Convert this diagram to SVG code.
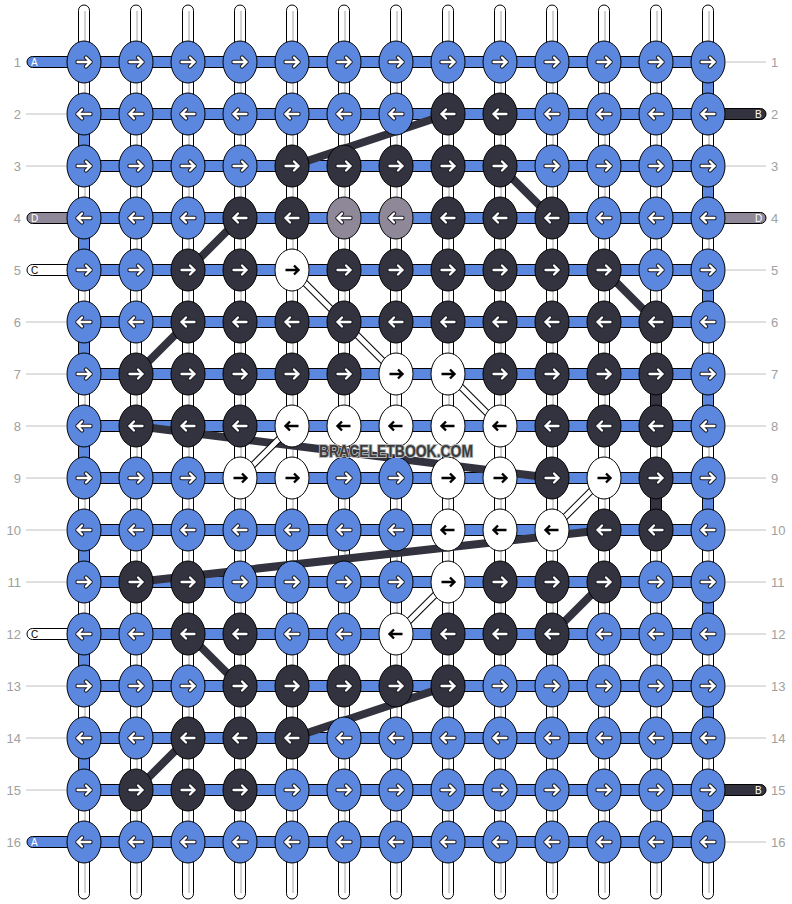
<svg xmlns="http://www.w3.org/2000/svg" xmlns:xlink="http://www.w3.org/1999/xlink" width="792" height="904" viewBox="0 0 792 904">
<style>
.st{fill:#fff;stroke:#000;stroke-width:1}
.sc{stroke:#c4c4c4;stroke-width:1.5}
.hb{fill:#5b87de;stroke:#000;stroke-width:1}
.eb{fill:#5b87de;stroke:#000;stroke-width:1}
.ek{fill:#33333f;stroke:#000;stroke-width:1}
.ew{fill:#fff;stroke:#000;stroke-width:1}
.eg{fill:#8f8898;stroke:#000;stroke-width:1}
.tk{fill:#33333f;stroke:#000;stroke-width:1}
.tg{fill:#8f8898;stroke:#000;stroke-width:1}
.tw{fill:#fff;stroke:#000;stroke-width:1}
.ao{stroke:#1e1e28;stroke-width:4.4;stroke-linejoin:round;stroke-linecap:round}
.aw{stroke:#fff;stroke-width:2.3;stroke-linecap:round}
.ab{stroke:#000;stroke-width:2.4}
.gl{stroke:#c0c0c0;stroke-width:1}
.lb{fill:#a0a0a0;font-family:"Liberation Sans",Arial,sans-serif;font-size:13px}
.tl{font-family:"Liberation Sans",Arial,sans-serif;font-size:10px}
.dl{stroke:#33333f;stroke-width:8;fill:none}
.ho{stroke:#000;stroke-width:7;fill:none}
.hi{stroke:#fff;stroke-width:5;fill:none}
.wm{font-family:"Liberation Sans",Arial,sans-serif;font-weight:bold;font-size:16px;fill:#3c3c3c;stroke:#b8b8b8;stroke-width:2;paint-order:stroke}
</style>
<defs>
<path id="ar" d="M-6.5 0H6.5M2-4.5L6.5 0L2 4.5" fill="none"/>
<path id="al" d="M6.5 0H-6.5M-2-4.5L-6.5 0L-2 4.5" fill="none"/>
<g id="BR"><ellipse rx="17" ry="21" class="eb"/><use href="#ar" class="ao"/><use href="#ar" class="aw"/></g>
<g id="BL"><ellipse rx="17" ry="21" class="eb"/><use href="#al" class="ao"/><use href="#al" class="aw"/></g>
<g id="KR"><ellipse rx="17" ry="21" class="ek"/><use href="#ar" class="ao"/><use href="#ar" class="aw"/></g>
<g id="KL"><ellipse rx="17" ry="21" class="ek"/><use href="#al" class="ao"/><use href="#al" class="aw"/></g>
<g id="GL"><ellipse rx="17" ry="21" class="eg"/><use href="#al" class="ao"/><use href="#al" class="aw"/></g>
<g id="WR"><ellipse rx="17" ry="21" class="ew"/><use href="#ar" class="ab"/></g>
<g id="WL"><ellipse rx="17" ry="21" class="ew"/><use href="#al" class="ab"/></g>
</defs>
<rect width="792" height="904" fill="#fff"/>
<g id="guides">
<line class="gl" x1="26" y1="114" x2="66" y2="114"/><line class="gl" x1="26" y1="166" x2="66" y2="166"/><line class="gl" x1="26" y1="322" x2="66" y2="322"/><line class="gl" x1="26" y1="374" x2="66" y2="374"/><line class="gl" x1="26" y1="426" x2="66" y2="426"/><line class="gl" x1="26" y1="478" x2="66" y2="478"/><line class="gl" x1="26" y1="530" x2="66" y2="530"/><line class="gl" x1="26" y1="582" x2="66" y2="582"/><line class="gl" x1="26" y1="686" x2="66" y2="686"/><line class="gl" x1="26" y1="738" x2="66" y2="738"/><line class="gl" x1="26" y1="790" x2="66" y2="790"/>
<line class="gl" x1="726" y1="62" x2="766" y2="62"/><line class="gl" x1="726" y1="166" x2="766" y2="166"/><line class="gl" x1="726" y1="270" x2="766" y2="270"/><line class="gl" x1="726" y1="322" x2="766" y2="322"/><line class="gl" x1="726" y1="374" x2="766" y2="374"/><line class="gl" x1="726" y1="426" x2="766" y2="426"/><line class="gl" x1="726" y1="478" x2="766" y2="478"/><line class="gl" x1="726" y1="530" x2="766" y2="530"/><line class="gl" x1="726" y1="582" x2="766" y2="582"/><line class="gl" x1="726" y1="634" x2="766" y2="634"/><line class="gl" x1="726" y1="686" x2="766" y2="686"/><line class="gl" x1="726" y1="738" x2="766" y2="738"/><line class="gl" x1="726" y1="842" x2="766" y2="842"/>
</g>
<g id="row-labels" class="lb">
<text x="21" y="66.7" text-anchor="end">1</text><text x="21" y="118.7" text-anchor="end">2</text><text x="21" y="170.7" text-anchor="end">3</text><text x="21" y="222.7" text-anchor="end">4</text><text x="21" y="274.7" text-anchor="end">5</text><text x="21" y="326.7" text-anchor="end">6</text><text x="21" y="378.7" text-anchor="end">7</text><text x="21" y="430.7" text-anchor="end">8</text><text x="21" y="482.7" text-anchor="end">9</text><text x="21" y="534.7" text-anchor="end">10</text><text x="21" y="586.7" text-anchor="end">11</text><text x="21" y="638.7" text-anchor="end">12</text><text x="21" y="690.7" text-anchor="end">13</text><text x="21" y="742.7" text-anchor="end">14</text><text x="21" y="794.7" text-anchor="end">15</text><text x="21" y="846.7" text-anchor="end">16</text>
<text x="771" y="66.7">1</text><text x="771" y="118.7">2</text><text x="771" y="170.7">3</text><text x="771" y="222.7">4</text><text x="771" y="274.7">5</text><text x="771" y="326.7">6</text><text x="771" y="378.7">7</text><text x="771" y="430.7">8</text><text x="771" y="482.7">9</text><text x="771" y="534.7">10</text><text x="771" y="586.7">11</text><text x="771" y="638.7">12</text><text x="771" y="690.7">13</text><text x="771" y="742.7">14</text><text x="771" y="794.7">15</text><text x="771" y="846.7">16</text>
</g>
<g id="strands">
<rect class="st" x="78.5" y="5" width="11" height="894" rx="5.5"/><rect class="st" x="130.5" y="5" width="11" height="894" rx="5.5"/><rect class="st" x="182.5" y="5" width="11" height="894" rx="5.5"/><rect class="st" x="234.5" y="5" width="11" height="894" rx="5.5"/><rect class="st" x="286.5" y="5" width="11" height="894" rx="5.5"/><rect class="st" x="338.5" y="5" width="11" height="894" rx="5.5"/><rect class="st" x="390.5" y="5" width="11" height="894" rx="5.5"/><rect class="st" x="442.5" y="5" width="11" height="894" rx="5.5"/><rect class="st" x="494.5" y="5" width="11" height="894" rx="5.5"/><rect class="st" x="546.5" y="5" width="11" height="894" rx="5.5"/><rect class="st" x="598.5" y="5" width="11" height="894" rx="5.5"/><rect class="st" x="650.5" y="5" width="11" height="894" rx="5.5"/><rect class="st" x="702.5" y="5" width="11" height="894" rx="5.5"/>
<path class="sc" d="M85 11V893M137 11V893M189 11V893M241 11V893M293 11V893M345 11V893M397 11V893M449 11V893M501 11V893M553 11V893M605 11V893M657 11V893M709 11V893"/>
</g>
<g id="row-strings">
<rect class="hb" x="84" y="56.5" width="624" height="11"/><rect class="hb" x="84" y="108.5" width="624" height="11"/><rect class="hb" x="84" y="160.5" width="624" height="11"/><rect class="hb" x="84" y="212.5" width="624" height="11"/><rect class="hb" x="84" y="264.5" width="624" height="11"/><rect class="hb" x="84" y="316.5" width="624" height="11"/><rect class="hb" x="84" y="368.5" width="624" height="11"/><rect class="hb" x="84" y="420.5" width="624" height="11"/><rect class="hb" x="84" y="472.5" width="624" height="11"/><rect class="hb" x="84" y="524.5" width="624" height="11"/><rect class="hb" x="84" y="576.5" width="624" height="11"/><rect class="hb" x="84" y="628.5" width="624" height="11"/><rect class="hb" x="84" y="680.5" width="624" height="11"/><rect class="hb" x="84" y="732.5" width="624" height="11"/><rect class="hb" x="84" y="784.5" width="624" height="11"/><rect class="hb" x="84" y="836.5" width="624" height="11"/>
</g>
<g id="tabs">
<rect class="hb" x="27" y="56.5" width="62" height="11" rx="5.5"/><text class="tl" x="31" y="66" fill="#fff">A</text>
<rect class="tg" x="27" y="212.5" width="62" height="11" rx="5.5"/><text class="tl" x="31" y="222" fill="#fff">D</text>
<rect class="tw" x="27" y="264.5" width="62" height="11" rx="5.5"/><text class="tl" x="31" y="274" fill="#000">C</text>
<rect class="tw" x="27" y="628.5" width="62" height="11" rx="5.5"/><text class="tl" x="31" y="638" fill="#000">C</text>
<rect class="hb" x="27" y="836.5" width="62" height="11" rx="5.5"/><text class="tl" x="31" y="846" fill="#fff">A</text>
<rect class="tk" x="700" y="108.5" width="66" height="11" rx="5.5"/><text class="tl" x="755" y="118" fill="#fff">B</text>
<rect class="tg" x="700" y="212.5" width="66" height="11" rx="5.5"/><text class="tl" x="755" y="222" fill="#fff">D</text>
<rect class="tk" x="700" y="784.5" width="66" height="11" rx="5.5"/><text class="tl" x="755" y="794" fill="#fff">B</text>
</g>
<g id="connectors">
<rect class="hb" x="78.5" y="114" width="11" height="52"/><rect class="hb" x="78.5" y="218" width="11" height="52"/><rect class="hb" x="78.5" y="322" width="11" height="52"/><rect class="hb" x="78.5" y="426" width="11" height="52"/><rect class="hb" x="78.5" y="530" width="11" height="52"/><rect class="hb" x="78.5" y="634" width="11" height="52"/><rect class="hb" x="78.5" y="738" width="11" height="52"/>
<rect class="hb" x="702.5" y="62" width="11" height="52"/><rect class="hb" x="702.5" y="166" width="11" height="52"/><rect class="hb" x="702.5" y="270" width="11" height="52"/><rect class="hb" x="702.5" y="374" width="11" height="52"/><rect class="hb" x="702.5" y="478" width="11" height="52"/><rect class="hb" x="702.5" y="582" width="11" height="52"/><rect class="hb" x="702.5" y="686" width="11" height="52"/><rect class="hb" x="702.5" y="790" width="11" height="52"/>
<rect class="tk" x="650.5" y="374" width="11" height="52"/><rect class="tk" x="650.5" y="478" width="11" height="52"/>
<path class="dl" d="M448 114L292 166M500 166L552 218M240 218L188 270M604 270L656 322M188 322L136 374M136 426L552 478M604 530L136 582M604 582L552 634M188 634L240 686M448 686L292 738M188 738L136 790"/>
<path class="ho" d="M292 270L396 374M448 374L500 426M292 426L240 478M604 478L552 530M448 582L396 634"/>
<path class="hi" d="M292 270L396 374M448 374L500 426M292 426L240 478M604 478L552 530M448 582L396 634"/>
</g>
<g id="knots">
<g id="k1-1"><use href="#BR" x="84" y="62"/></g><g id="k1-2"><use href="#BR" x="136" y="62"/></g><g id="k1-3"><use href="#BR" x="188" y="62"/></g><g id="k1-4"><use href="#BR" x="240" y="62"/></g><g id="k1-5"><use href="#BR" x="292" y="62"/></g><g id="k1-6"><use href="#BR" x="344" y="62"/></g><g id="k1-7"><use href="#BR" x="396" y="62"/></g><g id="k1-8"><use href="#BR" x="448" y="62"/></g><g id="k1-9"><use href="#BR" x="500" y="62"/></g><g id="k1-10"><use href="#BR" x="552" y="62"/></g><g id="k1-11"><use href="#BR" x="604" y="62"/></g><g id="k1-12"><use href="#BR" x="656" y="62"/></g><g id="k1-13"><use href="#BR" x="708" y="62"/></g>
<g id="k2-1"><use href="#BL" x="84" y="114"/></g><g id="k2-2"><use href="#BL" x="136" y="114"/></g><g id="k2-3"><use href="#BL" x="188" y="114"/></g><g id="k2-4"><use href="#BL" x="240" y="114"/></g><g id="k2-5"><use href="#BL" x="292" y="114"/></g><g id="k2-6"><use href="#BL" x="344" y="114"/></g><g id="k2-7"><use href="#BL" x="396" y="114"/></g><g id="k2-8"><use href="#KL" x="448" y="114"/></g><g id="k2-9"><use href="#KL" x="500" y="114"/></g><g id="k2-10"><use href="#BL" x="552" y="114"/></g><g id="k2-11"><use href="#BL" x="604" y="114"/></g><g id="k2-12"><use href="#BL" x="656" y="114"/></g><g id="k2-13"><use href="#BL" x="708" y="114"/></g>
<g id="k3-1"><use href="#BR" x="84" y="166"/></g><g id="k3-2"><use href="#BR" x="136" y="166"/></g><g id="k3-3"><use href="#BR" x="188" y="166"/></g><g id="k3-4"><use href="#BR" x="240" y="166"/></g><g id="k3-5"><use href="#KR" x="292" y="166"/></g><g id="k3-6"><use href="#KR" x="344" y="166"/></g><g id="k3-7"><use href="#KR" x="396" y="166"/></g><g id="k3-8"><use href="#KR" x="448" y="166"/></g><g id="k3-9"><use href="#KR" x="500" y="166"/></g><g id="k3-10"><use href="#BR" x="552" y="166"/></g><g id="k3-11"><use href="#BR" x="604" y="166"/></g><g id="k3-12"><use href="#BR" x="656" y="166"/></g><g id="k3-13"><use href="#BR" x="708" y="166"/></g>
<g id="k4-1"><use href="#BL" x="84" y="218"/></g><g id="k4-2"><use href="#BL" x="136" y="218"/></g><g id="k4-3"><use href="#BL" x="188" y="218"/></g><g id="k4-4"><use href="#KL" x="240" y="218"/></g><g id="k4-5"><use href="#KL" x="292" y="218"/></g><g id="k4-6"><use href="#GL" x="344" y="218"/></g><g id="k4-7"><use href="#GL" x="396" y="218"/></g><g id="k4-8"><use href="#KL" x="448" y="218"/></g><g id="k4-9"><use href="#KL" x="500" y="218"/></g><g id="k4-10"><use href="#KL" x="552" y="218"/></g><g id="k4-11"><use href="#BL" x="604" y="218"/></g><g id="k4-12"><use href="#BL" x="656" y="218"/></g><g id="k4-13"><use href="#BL" x="708" y="218"/></g>
<g id="k5-1"><use href="#BR" x="84" y="270"/></g><g id="k5-2"><use href="#BR" x="136" y="270"/></g><g id="k5-3"><use href="#KR" x="188" y="270"/></g><g id="k5-4"><use href="#KR" x="240" y="270"/></g><g id="k5-5"><use href="#WR" x="292" y="270"/></g><g id="k5-6"><use href="#KR" x="344" y="270"/></g><g id="k5-7"><use href="#KR" x="396" y="270"/></g><g id="k5-8"><use href="#KR" x="448" y="270"/></g><g id="k5-9"><use href="#KR" x="500" y="270"/></g><g id="k5-10"><use href="#KR" x="552" y="270"/></g><g id="k5-11"><use href="#KR" x="604" y="270"/></g><g id="k5-12"><use href="#BR" x="656" y="270"/></g><g id="k5-13"><use href="#BR" x="708" y="270"/></g>
<g id="k6-1"><use href="#BL" x="84" y="322"/></g><g id="k6-2"><use href="#BL" x="136" y="322"/></g><g id="k6-3"><use href="#KL" x="188" y="322"/></g><g id="k6-4"><use href="#KL" x="240" y="322"/></g><g id="k6-5"><use href="#KL" x="292" y="322"/></g><g id="k6-6"><use href="#KL" x="344" y="322"/></g><g id="k6-7"><use href="#KL" x="396" y="322"/></g><g id="k6-8"><use href="#KL" x="448" y="322"/></g><g id="k6-9"><use href="#KL" x="500" y="322"/></g><g id="k6-10"><use href="#KL" x="552" y="322"/></g><g id="k6-11"><use href="#KL" x="604" y="322"/></g><g id="k6-12"><use href="#KL" x="656" y="322"/></g><g id="k6-13"><use href="#BL" x="708" y="322"/></g>
<g id="k7-1"><use href="#BR" x="84" y="374"/></g><g id="k7-2"><use href="#KR" x="136" y="374"/></g><g id="k7-3"><use href="#KR" x="188" y="374"/></g><g id="k7-4"><use href="#KR" x="240" y="374"/></g><g id="k7-5"><use href="#KR" x="292" y="374"/></g><g id="k7-6"><use href="#KR" x="344" y="374"/></g><g id="k7-7"><use href="#WR" x="396" y="374"/></g><g id="k7-8"><use href="#WR" x="448" y="374"/></g><g id="k7-9"><use href="#KR" x="500" y="374"/></g><g id="k7-10"><use href="#KR" x="552" y="374"/></g><g id="k7-11"><use href="#KR" x="604" y="374"/></g><g id="k7-12"><use href="#KR" x="656" y="374"/></g><g id="k7-13"><use href="#BR" x="708" y="374"/></g>
<g id="k8-1"><use href="#BL" x="84" y="426"/></g><g id="k8-2"><use href="#KL" x="136" y="426"/></g><g id="k8-3"><use href="#KL" x="188" y="426"/></g><g id="k8-4"><use href="#KL" x="240" y="426"/></g><g id="k8-5"><use href="#WL" x="292" y="426"/></g><g id="k8-6"><use href="#WL" x="344" y="426"/></g><g id="k8-7"><use href="#WL" x="396" y="426"/></g><g id="k8-8"><use href="#WL" x="448" y="426"/></g><g id="k8-9"><use href="#WL" x="500" y="426"/></g><g id="k8-10"><use href="#KL" x="552" y="426"/></g><g id="k8-11"><use href="#KL" x="604" y="426"/></g><g id="k8-12"><use href="#KL" x="656" y="426"/></g><g id="k8-13"><use href="#BL" x="708" y="426"/></g>
<g id="k9-1"><use href="#BR" x="84" y="478"/></g><g id="k9-2"><use href="#BR" x="136" y="478"/></g><g id="k9-3"><use href="#BR" x="188" y="478"/></g><g id="k9-4"><use href="#WR" x="240" y="478"/></g><g id="k9-5"><use href="#WR" x="292" y="478"/></g><g id="k9-6"><use href="#BR" x="344" y="478"/></g><g id="k9-7"><use href="#BR" x="396" y="478"/></g><g id="k9-8"><use href="#WR" x="448" y="478"/></g><g id="k9-9"><use href="#WR" x="500" y="478"/></g><g id="k9-10"><use href="#KR" x="552" y="478"/></g><g id="k9-11"><use href="#WR" x="604" y="478"/></g><g id="k9-12"><use href="#KR" x="656" y="478"/></g><g id="k9-13"><use href="#BR" x="708" y="478"/></g>
<g id="k10-1"><use href="#BL" x="84" y="530"/></g><g id="k10-2"><use href="#BL" x="136" y="530"/></g><g id="k10-3"><use href="#BL" x="188" y="530"/></g><g id="k10-4"><use href="#BL" x="240" y="530"/></g><g id="k10-5"><use href="#BL" x="292" y="530"/></g><g id="k10-6"><use href="#BL" x="344" y="530"/></g><g id="k10-7"><use href="#BL" x="396" y="530"/></g><g id="k10-8"><use href="#WL" x="448" y="530"/></g><g id="k10-9"><use href="#WL" x="500" y="530"/></g><g id="k10-10"><use href="#WL" x="552" y="530"/></g><g id="k10-11"><use href="#KL" x="604" y="530"/></g><g id="k10-12"><use href="#KL" x="656" y="530"/></g><g id="k10-13"><use href="#BL" x="708" y="530"/></g>
<g id="k11-1"><use href="#BR" x="84" y="582"/></g><g id="k11-2"><use href="#KR" x="136" y="582"/></g><g id="k11-3"><use href="#KR" x="188" y="582"/></g><g id="k11-4"><use href="#BR" x="240" y="582"/></g><g id="k11-5"><use href="#BR" x="292" y="582"/></g><g id="k11-6"><use href="#BR" x="344" y="582"/></g><g id="k11-7"><use href="#BR" x="396" y="582"/></g><g id="k11-8"><use href="#WR" x="448" y="582"/></g><g id="k11-9"><use href="#KR" x="500" y="582"/></g><g id="k11-10"><use href="#KR" x="552" y="582"/></g><g id="k11-11"><use href="#KR" x="604" y="582"/></g><g id="k11-12"><use href="#BR" x="656" y="582"/></g><g id="k11-13"><use href="#BR" x="708" y="582"/></g>
<g id="k12-1"><use href="#BL" x="84" y="634"/></g><g id="k12-2"><use href="#BL" x="136" y="634"/></g><g id="k12-3"><use href="#KL" x="188" y="634"/></g><g id="k12-4"><use href="#KL" x="240" y="634"/></g><g id="k12-5"><use href="#BL" x="292" y="634"/></g><g id="k12-6"><use href="#BL" x="344" y="634"/></g><g id="k12-7"><use href="#WL" x="396" y="634"/></g><g id="k12-8"><use href="#KL" x="448" y="634"/></g><g id="k12-9"><use href="#KL" x="500" y="634"/></g><g id="k12-10"><use href="#KL" x="552" y="634"/></g><g id="k12-11"><use href="#BL" x="604" y="634"/></g><g id="k12-12"><use href="#BL" x="656" y="634"/></g><g id="k12-13"><use href="#BL" x="708" y="634"/></g>
<g id="k13-1"><use href="#BR" x="84" y="686"/></g><g id="k13-2"><use href="#BR" x="136" y="686"/></g><g id="k13-3"><use href="#BR" x="188" y="686"/></g><g id="k13-4"><use href="#KR" x="240" y="686"/></g><g id="k13-5"><use href="#KR" x="292" y="686"/></g><g id="k13-6"><use href="#KR" x="344" y="686"/></g><g id="k13-7"><use href="#KR" x="396" y="686"/></g><g id="k13-8"><use href="#KR" x="448" y="686"/></g><g id="k13-9"><use href="#BR" x="500" y="686"/></g><g id="k13-10"><use href="#BR" x="552" y="686"/></g><g id="k13-11"><use href="#BR" x="604" y="686"/></g><g id="k13-12"><use href="#BR" x="656" y="686"/></g><g id="k13-13"><use href="#BR" x="708" y="686"/></g>
<g id="k14-1"><use href="#BL" x="84" y="738"/></g><g id="k14-2"><use href="#BL" x="136" y="738"/></g><g id="k14-3"><use href="#KL" x="188" y="738"/></g><g id="k14-4"><use href="#KL" x="240" y="738"/></g><g id="k14-5"><use href="#KL" x="292" y="738"/></g><g id="k14-6"><use href="#BL" x="344" y="738"/></g><g id="k14-7"><use href="#BL" x="396" y="738"/></g><g id="k14-8"><use href="#BL" x="448" y="738"/></g><g id="k14-9"><use href="#BL" x="500" y="738"/></g><g id="k14-10"><use href="#BL" x="552" y="738"/></g><g id="k14-11"><use href="#BL" x="604" y="738"/></g><g id="k14-12"><use href="#BL" x="656" y="738"/></g><g id="k14-13"><use href="#BL" x="708" y="738"/></g>
<g id="k15-1"><use href="#BR" x="84" y="790"/></g><g id="k15-2"><use href="#KR" x="136" y="790"/></g><g id="k15-3"><use href="#KR" x="188" y="790"/></g><g id="k15-4"><use href="#KR" x="240" y="790"/></g><g id="k15-5"><use href="#BR" x="292" y="790"/></g><g id="k15-6"><use href="#BR" x="344" y="790"/></g><g id="k15-7"><use href="#BR" x="396" y="790"/></g><g id="k15-8"><use href="#BR" x="448" y="790"/></g><g id="k15-9"><use href="#BR" x="500" y="790"/></g><g id="k15-10"><use href="#BR" x="552" y="790"/></g><g id="k15-11"><use href="#BR" x="604" y="790"/></g><g id="k15-12"><use href="#BR" x="656" y="790"/></g><g id="k15-13"><use href="#BR" x="708" y="790"/></g>
<g id="k16-1"><use href="#BL" x="84" y="842"/></g><g id="k16-2"><use href="#BL" x="136" y="842"/></g><g id="k16-3"><use href="#BL" x="188" y="842"/></g><g id="k16-4"><use href="#BL" x="240" y="842"/></g><g id="k16-5"><use href="#BL" x="292" y="842"/></g><g id="k16-6"><use href="#BL" x="344" y="842"/></g><g id="k16-7"><use href="#BL" x="396" y="842"/></g><g id="k16-8"><use href="#BL" x="448" y="842"/></g><g id="k16-9"><use href="#BL" x="500" y="842"/></g><g id="k16-10"><use href="#BL" x="552" y="842"/></g><g id="k16-11"><use href="#BL" x="604" y="842"/></g><g id="k16-12"><use href="#BL" x="656" y="842"/></g><g id="k16-13"><use href="#BL" x="708" y="842"/></g>
</g>
<text class="wm" x="396" y="457" text-anchor="middle" textLength="154" lengthAdjust="spacingAndGlyphs">BRACELETBOOK.COM</text>
</svg>
